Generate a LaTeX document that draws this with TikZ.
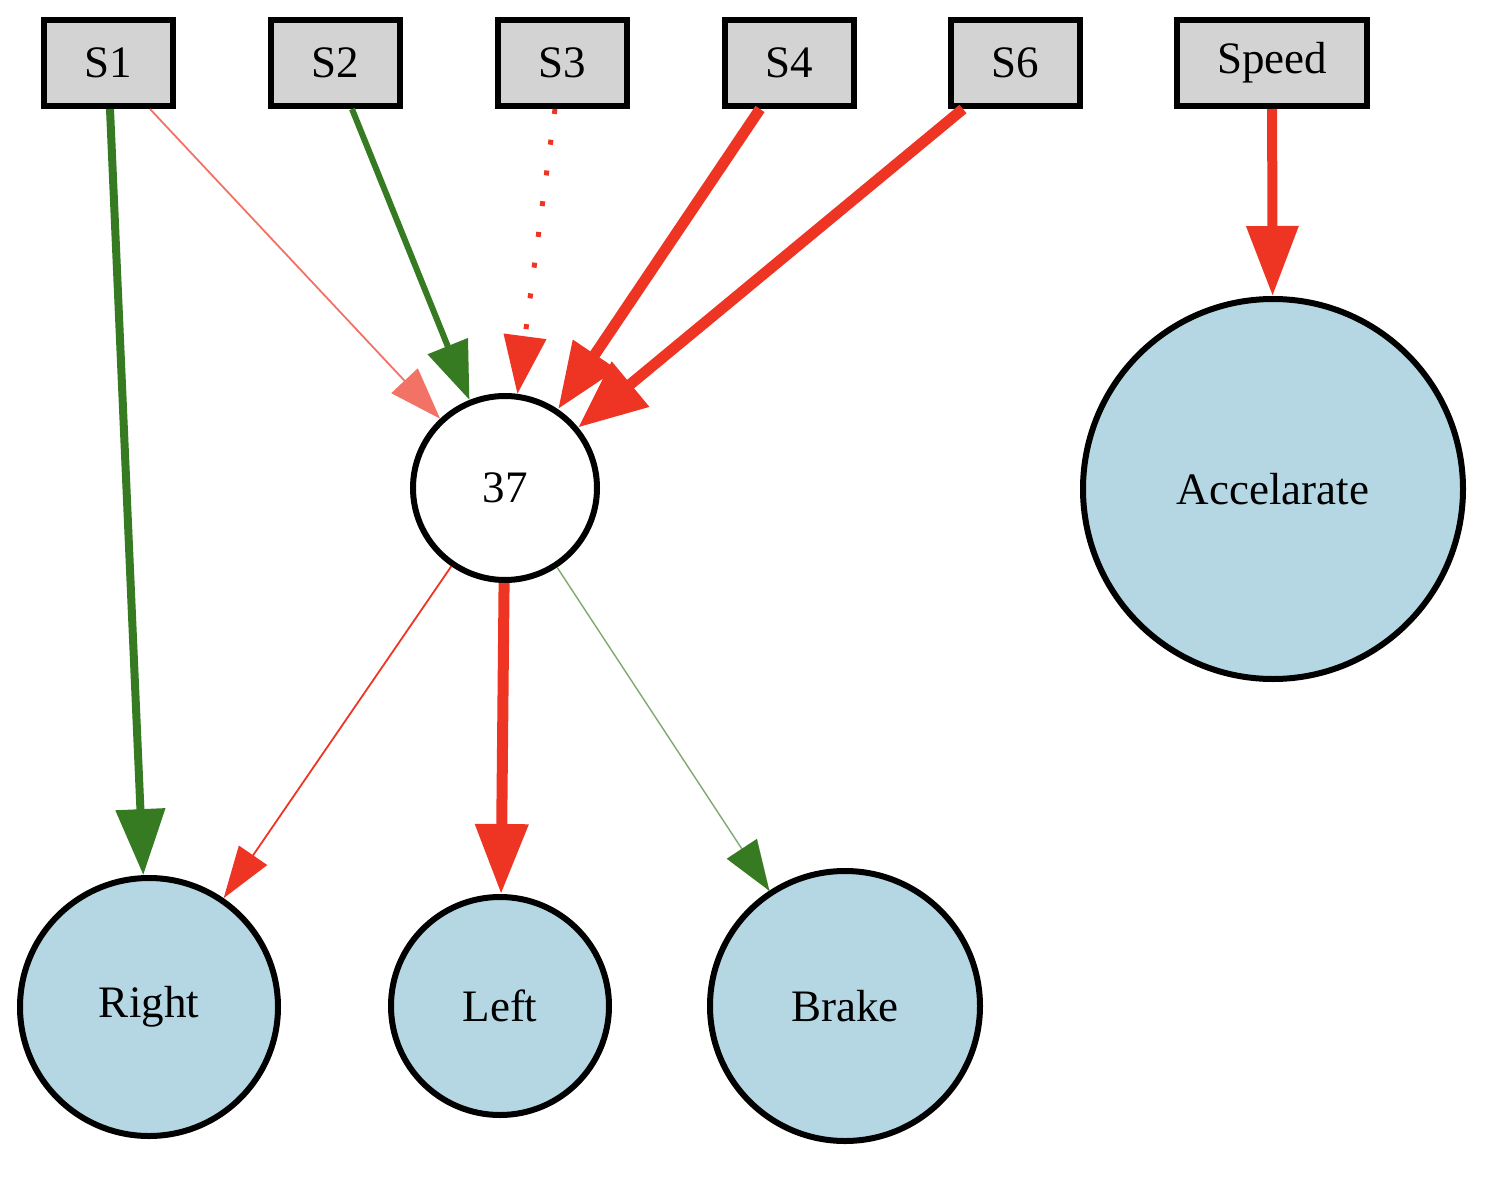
\documentclass[tikz,border=0pt]{standalone}
\usepackage{fontspec}
\setmainfont{Liberation Serif}
\usetikzlibrary{arrows.meta}
\definecolor{ered}{HTML}{EE3524}
\definecolor{egreen}{HTML}{367B22}
\definecolor{outblue}{HTML}{B4D7E3}
\definecolor{inpgray}{HTML}{D3D3D3}
\begin{document}
\begin{tikzpicture}[x=1pt,y=-1pt,
  every node/.style={font=\fontsize{45}{54}\selectfont},
  inbox/.style={draw=black, line width=6pt, fill=inpgray, rectangle, minimum width=129pt, minimum height=86pt, inner sep=0pt},
  hidden/.style={draw=black, line width=6pt, fill=white, circle, inner sep=0pt},
  outnode/.style={draw=black, line width=6pt, fill=outblue, circle, inner sep=0pt},
  tri/.style n args={2}{-{Triangle[length=#1pt,width=#2pt]}},
]
\useasboundingbox (0,0) rectangle (1496,1196);
% inputs
\node[inbox] (S1) at (108,63) {S1};
\node[inbox] (S2) at (335,63) {S2};
\node[inbox] (S3) at (562,63) {S3};
\node[inbox] (S4) at (789,63) {S4};
\node[inbox] (S6) at (1015,63) {S6};
\node[inbox, minimum width=190pt] (Sp) at (1272,63) {Speed};
% hidden
\node[hidden, minimum size=184pt] (H) at (505,488) {37};
% outputs
\node[outnode, minimum size=380pt] (Acc) at (1273,489) {Accelarate};
\node[outnode, minimum size=258pt] (Right) at (149,1007) {Right};
\node[outnode, minimum size=218pt] (Left) at (500,1006) {Left};
\node[outnode, minimum size=270pt] (Brake) at (845,1006) {Brake};
% start points on boxes
\coordinate (a1) at ([xshift=2pt]S1.south);
\coordinate (a2) at ([xshift=42pt]S1.south);
\coordinate (b1) at ([xshift=17pt]S2.south);
\coordinate (c1) at ([xshift=-7pt]S3.south);
\coordinate (d1) at ([xshift=-29pt]S4.south);
\coordinate (e1) at ([xshift=-52pt]S6.south);
% edges
\draw[egreen, line width=8pt, tri={66}{48}] (a1) -- (Right);
\draw[ered!70, line width=1.8pt, tri={52}{36}] (a2) -- (H);
\draw[egreen, line width=6pt, tri={58}{42}] (b1) -- (H);
\draw[ered, line width=5pt, dash pattern=on 5pt off 26pt, tri={58}{42}] (c1) -- (H);
\draw[ered, line width=11pt, tri={66}{50}] (d1) -- (H);
\draw[ered, line width=11pt, tri={68}{56}] (e1) -- (H);
\draw[ered, line width=10pt, tri={70}{50}] (Sp) -- (Acc);
\draw[ered, line width=1.8pt, tri={52}{34}] (H) -- (Right);
\draw[ered, line width=11pt, tri={70}{51}] (H) -- (Left);
\draw[egreen!55, line width=1.5pt] (H) -- (Brake);
\draw[egreen, line width=0.01pt, -{Triangle[length=50pt,width=36pt]}] (H) -- (Brake);
\end{tikzpicture}
\end{document}
